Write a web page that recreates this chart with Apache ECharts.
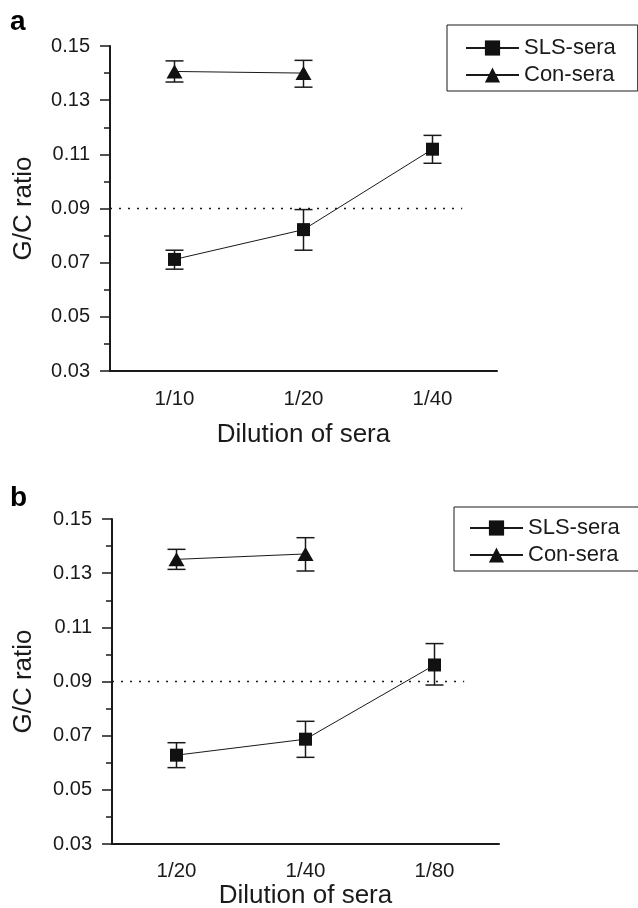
<!DOCTYPE html>
<html>
<head>
<meta charset="utf-8">
<title>G/C ratio vs dilution of sera</title>
<script src="https://cdn.jsdelivr.net/npm/echarts@6/dist/echarts.min.js"></script>
<style>
    html, body {
        margin: 0;
        padding: 0;
        background: #fff;
    }

    #chart {
        width: 638px;
        height: 908px;
    }
</style>
</head>
<body>
<div id="chart"></div>
<script>
    // panel a
    var catsA = ['1/10', '1/20', '1/40'];
    var slsA = [0.0712, 0.0822, 0.1119];
    var slsALow = [0.0676, 0.0746, 0.1067];
    var slsAHigh = [0.0746, 0.0896, 0.1170];
    var conA = [0.1406, 0.1400];
    var conALow = [0.1367, 0.1348];
    var conAHigh = [0.1445, 0.1447];

    // panel b
    var catsB = ['1/20', '1/40', '1/80'];
    var slsB = [0.0628, 0.0687, 0.0961];
    var slsBLow = [0.0582, 0.0620, 0.0887];
    var slsBHigh = [0.0674, 0.0753, 0.1040];
    var conB = [0.1351, 0.1371];
    var conBLow = [0.1314, 0.1308];
    var conBHigh = [0.1388, 0.1431];

    // cut-off line, x given in category index units
    var cutoff = 0.09;
    var cutoffX = [-0.5, 2.23];

    var yTicks = ['0.03', '0.05', '0.07', '0.09', '0.11', '0.13', '0.15'];

    var FONT = "'Liberation Sans', Arial, Helvetica, sans-serif";
    var INK = '#1a1a1a';

    function bars(low, high) {
        var out = [];
        for (var i = 0; i < low.length; i++) {
            out.push([i, low[i], high[i]]);
        }
        return out;
    }

    function renderErrorBar(params, api) {
        var lo = api.coord([api.value(0), api.value(1)]);
        var hi = api.coord([api.value(0), api.value(2)]);
        var w = 9;
        var style = {stroke: INK, lineWidth: 1.5, fill: null};
        return {
            type: 'group',
            children: [
                {type: 'line', shape: {x1: lo[0], y1: lo[1], x2: hi[0], y2: hi[1]}, style: style},
                {type: 'line', shape: {x1: hi[0] - w, y1: hi[1], x2: hi[0] + w, y2: hi[1]}, style: style},
                {type: 'line', shape: {x1: lo[0] - w, y1: lo[1], x2: lo[0] + w, y2: lo[1]}, style: style}
            ]
        };
    }

    function xCat(cats, idx, margin, nameGap) {
        return {
            type: 'category',
            gridIndex: idx,
            data: cats,
            boundaryGap: true,
            name: 'Dilution of sera',
            nameLocation: 'middle',
            nameGap: nameGap,
            nameTextStyle: {fontFamily: FONT, fontSize: 26, color: INK},
            axisLine: {onZero: false, lineStyle: {color: INK, width: 2}},
            axisTick: {alignWithLabel: true, length: 10, lineStyle: {color: INK, width: 1.5}},
            axisLabel: {fontFamily: FONT, fontSize: 20.5, color: INK, margin: margin},
            splitLine: {show: false}
        };
    }

    function xHidden(idx) {
        return {
            type: 'value',
            gridIndex: idx,
            min: -0.5,
            max: 2.5,
            show: false,
            axisLine: {onZero: false}
        };
    }

    function yVal(idx, nameGap) {
        return {
            type: 'value',
            gridIndex: idx,
            min: Number(yTicks[0]),
            max: Number(yTicks[yTicks.length - 1]),
            interval: 0.02,
            name: 'G/C ratio',
            nameLocation: 'middle',
            nameRotate: 90,
            nameGap: nameGap,
            nameTextStyle: {fontFamily: FONT, fontSize: 26, color: INK},
            axisLine: {show: true, onZero: false, lineStyle: {color: INK, width: 2}},
            axisTick: {show: true, length: 10, lineStyle: {color: INK, width: 1.5}},
            minorTick: {show: true, splitNumber: 2, length: 6, lineStyle: {color: INK, width: 1.5}},
            axisLabel: {
                fontFamily: FONT, fontSize: 20, color: INK, margin: 20,
                formatter: function (v) { return v.toFixed(2); }
            },
            splitLine: {show: false}
        };
    }

    function lineSeries(name, values, symbol, size, xi, yi) {
        return {
            name: name,
            type: 'line',
            xAxisIndex: xi,
            yAxisIndex: yi,
            data: values,
            symbol: symbol,
            symbolSize: size,
            showSymbol: true,
            z: 5,
            lineStyle: {color: INK, width: 1},
            itemStyle: {color: '#111', borderWidth: 0},
            animation: false
        };
    }

    function errSeries(data, xi, yi) {
        return {
            type: 'custom',
            xAxisIndex: xi,
            yAxisIndex: yi,
            data: data,
            renderItem: renderErrorBar,
            encode: {x: 0, y: [1, 2]},
            z: 3,
            silent: true,
            animation: false
        };
    }

    function cutoffSeries(xi, yi) {
        return {
            type: 'line',
            xAxisIndex: xi,
            yAxisIndex: yi,
            data: [[cutoffX[0], cutoff], [cutoffX[1], cutoff]],
            symbol: 'none',
            lineStyle: {color: INK, width: 1.5, type: [2, 7]},
            z: 2,
            silent: true,
            animation: false
        };
    }

    function legendBox(top, left, padding) {
        return {
            top: top,
            left: left,
            orient: 'vertical',
            data: ['SLS-sera', 'Con-sera'],
            itemWidth: 53,
            itemHeight: 19,
            itemGap: 5,
            padding: padding,
            borderColor: INK,
            borderWidth: 1,
            selectedMode: false,
            textStyle: {fontFamily: FONT, fontSize: 22, color: INK}
        };
    }

    var chart = echarts.init(document.getElementById('chart'), null, {renderer: 'canvas'});

    var option = {
        backgroundColor: '#fff',
        animation: false,
        title: [
            {text: 'a', left: 10, top: 8, padding: 0, textStyle: {fontFamily: FONT, fontSize: 28, fontWeight: 'bold', color: '#000'}},
            {text: 'b', left: 10, top: 484, padding: 0, textStyle: {fontFamily: FONT, fontSize: 28, fontWeight: 'bold', color: '#000'}}
        ],
        legend: [
            legendBox(25, 447, [12, 22, 5, 18]),
            legendBox(507, 454, [10, 22, 5, 15])
        ],
        grid: [
            {left: 110, top: 46, width: 387, height: 325, outerBoundsMode: 'none'},
            {left: 112, top: 519, width: 387, height: 325, outerBoundsMode: 'none'}
        ],
        xAxis: [
            xCat(catsA, 0, 18, 51),
            xCat(catsB, 1, 17, 39),
            xHidden(0),
            xHidden(1)
        ],
        yAxis: [yVal(0, 73), yVal(1, 75)],
        series: [
            cutoffSeries(2, 0),
            errSeries(bars(slsALow, slsAHigh), 0, 0),
            errSeries(bars(conALow, conAHigh), 0, 0),
            lineSeries('SLS-sera', slsA, 'rect', 13, 0, 0),
            lineSeries('Con-sera', conA, 'triangle', [16, 14], 0, 0),

            cutoffSeries(3, 1),
            errSeries(bars(slsBLow, slsBHigh), 1, 1),
            errSeries(bars(conBLow, conBHigh), 1, 1),
            lineSeries('SLS-sera', slsB, 'rect', 13, 1, 1),
            lineSeries('Con-sera', conB, 'triangle', [16, 14], 1, 1)
        ]
    };

    chart.setOption(option);
</script>
</body>
</html>
